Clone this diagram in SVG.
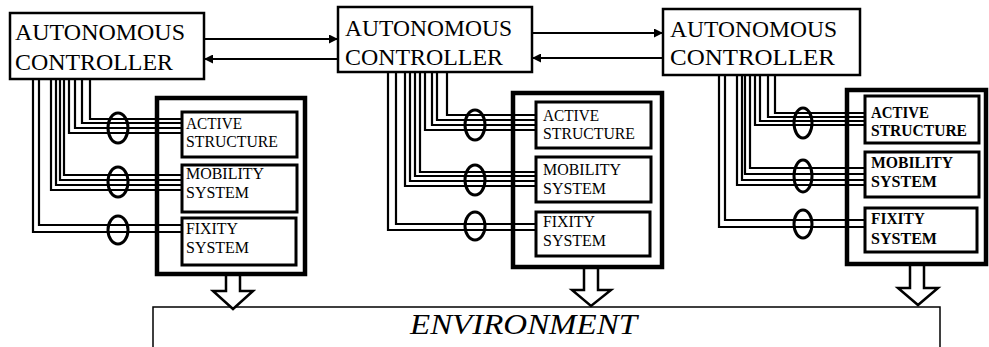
<svg xmlns="http://www.w3.org/2000/svg" width="989" height="347" viewBox="0 0 989 347">
<defs>
<style>
.ctrl{fill:#fff;stroke:#000;stroke-width:2.5}
.outer{fill:none;stroke:#000;stroke-width:4.5}
.sub{fill:#fff;stroke:#000;stroke-width:3}
.ct{font-family:"Liberation Serif","Times New Roman",serif;font-size:24px;fill:#000}
.st{font-family:"Liberation Serif","Times New Roman",serif;font-size:17px;fill:#000}
.w{fill:none;stroke:#000;stroke-width:2.2}
.ell{fill:none;stroke:#000;stroke-width:3}
.ln{fill:none;stroke:#000;stroke-width:2}
.blk{fill:#fff;stroke:#000;stroke-width:2.5;stroke-linejoin:miter}
.env{fill:#fff;stroke:#000;stroke-width:1.5}
.et{font-family:"Liberation Serif","Times New Roman",serif;font-style:italic;font-size:30px;fill:#000}
</style>
<marker id="ah" viewBox="0 0 10 10" refX="10" refY="5" markerWidth="9" markerHeight="9" markerUnits="userSpaceOnUse" orient="auto">
<path d="M0,0 L10,5 L0,10 z" fill="#000"/>
</marker>
</defs>

<g id="environment">
<rect class="env" x="153" y="307" width="787" height="45"/>
<text class="et" x="410" y="334" textLength="227" lengthAdjust="spacingAndGlyphs">ENVIRONMENT</text>
</g>

<g id="connectors">
<line class="ln" x1="204" y1="39" x2="338" y2="39" marker-end="url(#ah)"/>
<line class="ln" x1="338" y1="59" x2="204" y2="59" marker-end="url(#ah)"/>
<line class="ln" x1="532" y1="33" x2="663" y2="33" marker-end="url(#ah)"/>
<line class="ln" x1="663" y1="58" x2="532" y2="58" marker-end="url(#ah)"/>

<path class="w" d="M90,79 V119 H182 M82,79 V123 H182 M75,79 V128 H182 M69,79 V133 H182"/>
<path class="w" d="M64,79 V175 H182 M60,79 V180 H182 M56,79 V185 H182 M51,79 V190 H182"/>
<path class="w" d="M39,79 V225 H182 M33,79 V232 H182"/>
<path class="w" d="M447,72 V115 H536 M437,72 V120 H536 M432,72 V125 H536 M425,72 V130 H536"/>
<path class="w" d="M420,72 V172 H536 M415,72 V176 H536 M410,72 V181 H536 M405,72 V186 H536"/>
<path class="w" d="M396,72 V224 H536 M388,72 V230 H536"/>
<path class="w" d="M775,75 V113 H865 M768,75 V117 H865 M760,75 V121 H865 M755,75 V125 H865"/>
<path class="w" d="M750,75 V168 H865 M745,75 V174 H865 M742,75 V180 H865 M737,75 V185 H865"/>
<path class="w" d="M725,75 V220 H865 M719,75 V227 H865"/>

<ellipse class="ell" cx="118" cy="128" rx="10" ry="15"/>
<ellipse class="ell" cx="118" cy="182" rx="10" ry="15"/>
<ellipse class="ell" cx="118" cy="230" rx="10" ry="14"/>
<ellipse class="ell" cx="475" cy="125" rx="10" ry="15"/>
<ellipse class="ell" cx="475" cy="180" rx="10" ry="15"/>
<ellipse class="ell" cx="475" cy="226" rx="10" ry="14"/>
<ellipse class="ell" cx="803" cy="123" rx="9" ry="15"/>
<ellipse class="ell" cx="803" cy="176" rx="9" ry="16"/>
<ellipse class="ell" cx="803" cy="224" rx="9" ry="14"/>

<path class="blk" d="M226,274 H240 V291 H253 L233,309 L213,291 H226 Z"/>
<path class="blk" d="M584,267 H598 V290 H611 L591,306 L572,290 H584 Z"/>
<path class="blk" d="M910,264 H924 V288 H938 L918,305 L898,288 H910 Z"/>
</g>

<g id="controller1">
<rect class="ctrl" x="10" y="13" width="194" height="66"/>
<text class="ct" x="15" y="40" textLength="170" lengthAdjust="spacingAndGlyphs">AUTONOMOUS</text>
<text class="ct" x="15" y="70" textLength="158" lengthAdjust="spacingAndGlyphs">CONTROLLER</text>
</g>
<g id="controller2">
<rect class="ctrl" x="338" y="7" width="194" height="65"/>
<text class="ct" x="345" y="36" textLength="167" lengthAdjust="spacingAndGlyphs">AUTONOMOUS</text>
<text class="ct" x="345" y="65" textLength="158" lengthAdjust="spacingAndGlyphs">CONTROLLER</text>
</g>
<g id="controller3">
<rect class="ctrl" x="663" y="9" width="197" height="66"/>
<text class="ct" x="670" y="37" textLength="167" lengthAdjust="spacingAndGlyphs">AUTONOMOUS</text>
<text class="ct" x="670" y="65" textLength="165" lengthAdjust="spacingAndGlyphs">CONTROLLER</text>
</g>

<g id="module1">
<rect class="outer" x="157" y="98" width="148" height="176"/>
</g>
<g id="active1">
<rect class="sub" x="182" y="112" width="115" height="45"/>
<text class="st" x="186" y="129" textLength="56" lengthAdjust="spacingAndGlyphs">ACTIVE</text>
<text class="st" x="186" y="147" textLength="92" lengthAdjust="spacingAndGlyphs">STRUCTURE</text>
</g>
<g id="mobility1">
<rect class="sub" x="182" y="165" width="115" height="47"/>
<text class="st" x="186" y="179" textLength="78" lengthAdjust="spacingAndGlyphs">MOBILITY</text>
<text class="st" x="186" y="198" textLength="63" lengthAdjust="spacingAndGlyphs">SYSTEM</text>
</g>
<g id="fixity1">
<rect class="sub" x="182" y="218" width="114" height="47"/>
<text class="st" x="186" y="234" textLength="52" lengthAdjust="spacingAndGlyphs">FIXITY</text>
<text class="st" x="186" y="253" textLength="63" lengthAdjust="spacingAndGlyphs">SYSTEM</text>
</g>

<g id="module2">
<rect class="outer" x="513" y="93" width="149" height="174"/>
</g>
<g id="active2">
<rect class="sub" x="536" y="102" width="115" height="46"/>
<text class="st" x="543" y="121" textLength="56" lengthAdjust="spacingAndGlyphs">ACTIVE</text>
<text class="st" x="543" y="139" textLength="92" lengthAdjust="spacingAndGlyphs">STRUCTURE</text>
</g>
<g id="mobility2">
<rect class="sub" x="536" y="157" width="115" height="45"/>
<text class="st" x="543" y="175" textLength="78" lengthAdjust="spacingAndGlyphs">MOBILITY</text>
<text class="st" x="543" y="194" textLength="63" lengthAdjust="spacingAndGlyphs">SYSTEM</text>
</g>
<g id="fixity2">
<rect class="sub" x="536" y="212" width="114" height="44"/>
<text class="st" x="543" y="227" textLength="52" lengthAdjust="spacingAndGlyphs">FIXITY</text>
<text class="st" x="543" y="246" textLength="63" lengthAdjust="spacingAndGlyphs">SYSTEM</text>
</g>

<g id="module3">
<rect class="outer" x="847" y="90" width="139" height="174"/>
</g>
<g id="active3">
<rect class="sub" x="865" y="96" width="114" height="47"/>
<text class="st" x="871" y="118" font-weight="bold" textLength="58" lengthAdjust="spacingAndGlyphs">ACTIVE</text>
<text class="st" x="871" y="136" font-weight="bold" textLength="96" lengthAdjust="spacingAndGlyphs">STRUCTURE</text>
</g>
<g id="mobility3">
<rect class="sub" x="865" y="152" width="114" height="45"/>
<text class="st" x="871" y="168" font-weight="bold" textLength="82" lengthAdjust="spacingAndGlyphs">MOBILITY</text>
<text class="st" x="871" y="187" font-weight="bold" textLength="66" lengthAdjust="spacingAndGlyphs">SYSTEM</text>
</g>
<g id="fixity3">
<rect class="sub" x="865" y="208" width="112" height="44"/>
<text class="st" x="871" y="224" font-weight="bold" textLength="54" lengthAdjust="spacingAndGlyphs">FIXITY</text>
<text class="st" x="871" y="244" font-weight="bold" textLength="66" lengthAdjust="spacingAndGlyphs">SYSTEM</text>
</g>
</svg>
